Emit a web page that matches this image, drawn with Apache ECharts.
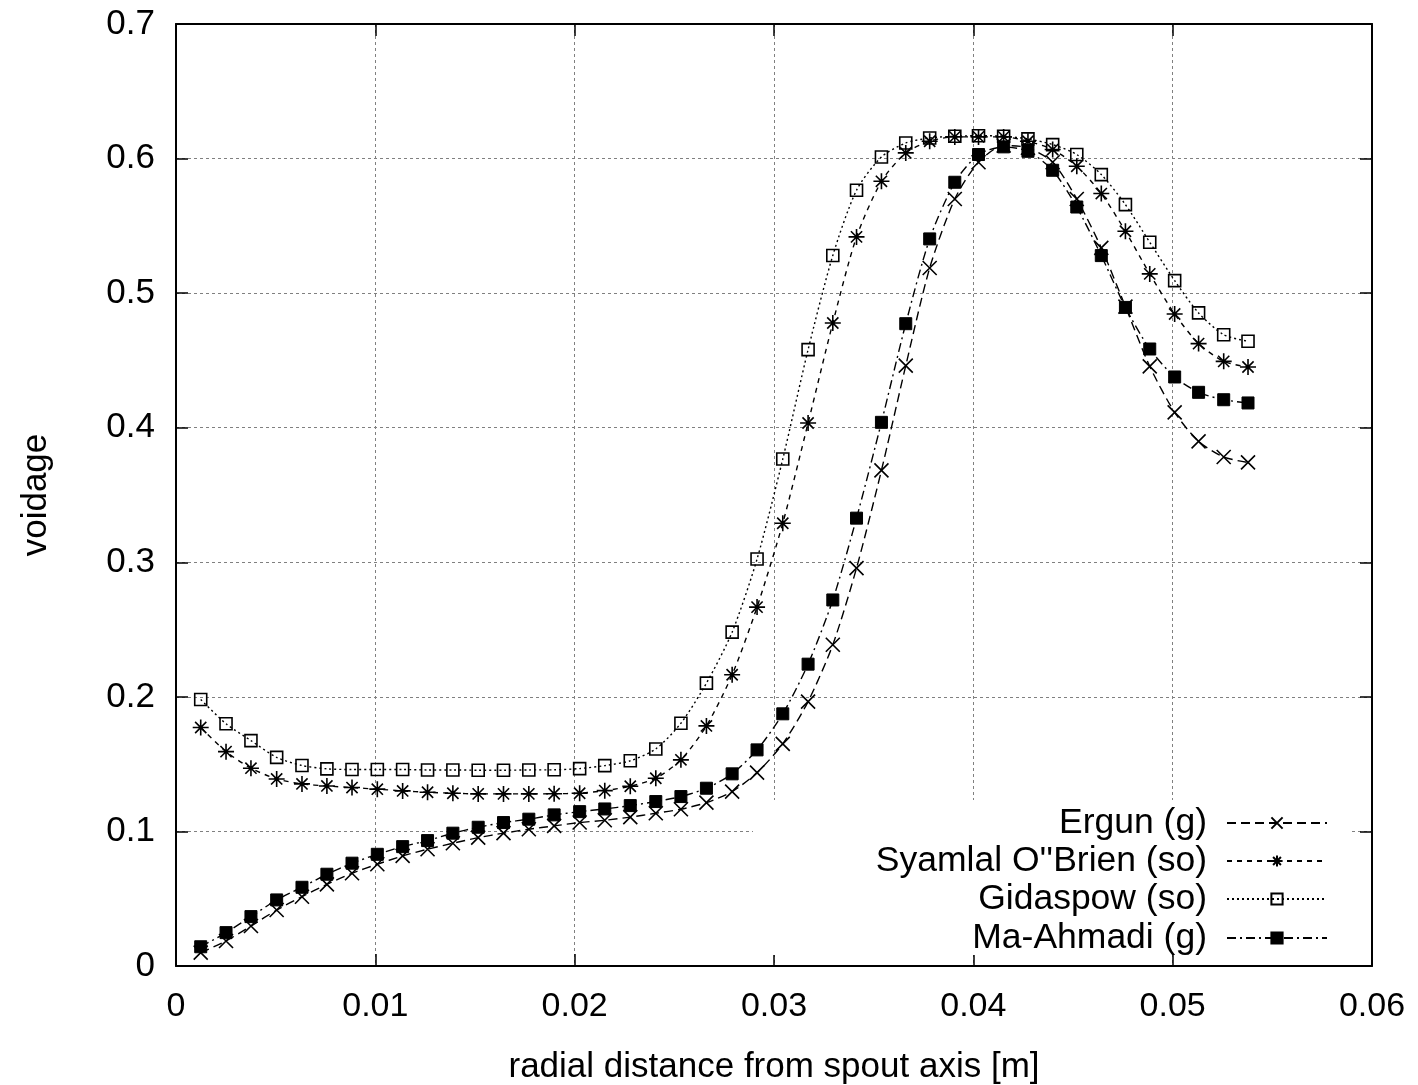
<!DOCTYPE html>
<html>
<head>
<meta charset="utf-8">
<script src="https://cdn.jsdelivr.net/npm/echarts@6/dist/echarts.min.js"></script>
<style>
html,body{margin:0;padding:0;background:#fff;}
#chart{width:1418px;height:1085px;}
</style>
</head>
<body>
<div id="chart"></div>
<script>
// radial positions [m]
const radius = [0.00124,0.00251,0.00376,0.00505,0.00632,0.00757,0.00883,0.01010,0.01137,0.01262,
0.01389,0.01516,0.01643,0.01770,0.01897,0.02025,0.02151,0.02279,0.02407,0.02533,
0.02661,0.02790,0.02915,0.03044,0.03171,0.03295,0.03414,0.03539,0.03661,0.03781,
0.03907,0.04026,0.04152,0.04274,0.04398,0.04519,0.04642,0.04763,0.04885,0.05010,
0.05130,0.05256,0.05378];

const ergun = [0.0099,0.0186,0.0297,0.0416,0.0515,0.0607,0.0689,0.0756,0.0818,0.0868,
0.0912,0.0954,0.0987,0.1016,0.1041,0.1066,0.1083,0.1106,0.1135,0.1165,
0.1214,0.1296,0.1437,0.1651,0.1965,0.2387,0.2957,0.3683,0.4461,0.5187,
0.5700,0.5973,0.6097,0.6080,0.5973,0.5700,0.5336,0.4900,0.4456,0.4114,
0.3898,0.3782,0.3742];

const syamlal = [0.1772,0.1593,0.1470,0.1390,0.1353,0.1338,0.1326,0.1314,0.1301,0.1291,
0.1284,0.1279,0.1279,0.1279,0.1280,0.1284,0.1303,0.1336,0.1395,0.1532,
0.1784,0.2164,0.2667,0.3290,0.4035,0.4778,0.5418,0.5831,0.6042,0.6129,
0.6161,0.6161,0.6161,0.6129,0.6067,0.5943,0.5740,0.5460,0.5143,0.4845,
0.4625,0.4493,0.4451];

const gidaspow = [0.1980,0.1800,0.1675,0.1550,0.1490,0.1465,0.1460,0.1460,0.1460,0.1457,
0.1457,0.1455,0.1455,0.1457,0.1458,0.1467,0.1489,0.1525,0.1613,0.1804,
0.2102,0.2481,0.3024,0.3767,0.4580,0.5280,0.5765,0.6012,0.6116,0.6153,
0.6166,0.6170,0.6166,0.6146,0.6104,0.6030,0.5881,0.5658,0.5378,0.5093,
0.4853,0.4691,0.4642];

const maAhmadi = [0.0143,0.0248,0.0367,0.0491,0.0585,0.0682,0.0764,0.0830,0.0887,0.0932,
0.0987,0.1031,0.1066,0.1091,0.1123,0.1147,0.1167,0.1192,0.1222,0.1259,
0.1321,0.1428,0.1606,0.1874,0.2243,0.2720,0.3328,0.4040,0.4773,0.5403,
0.5824,0.6030,0.6087,0.6054,0.5913,0.5640,0.5279,0.4894,0.4585,0.4377,
0.4263,0.4208,0.4184];

const seriesNames = ['Ergun (g)', "Syamlal O''Brien (so)", 'Gidaspow (so)', 'Ma-Ahmadi (g)'];
const xTitle = 'radial distance from spout axis [m]';
const yTitle = 'voidage';

const FONT = '"Liberation Sans", Arial, Helvetica, sans-serif';
const pair = arr => radius.map((r, i) => [r, arr[i]]);

const CROSS = 'path://M0,0 L10,10 M10,0 L0,10';
const STAR = 'path://M5,0 L5,10 M0,5 L10,5 M1.5,1.5 L8.5,8.5 M8.5,1.5 L1.5,8.5';

function lineSeries(name, arr, symbol, size, dash, filled) {
  return {
    name: name,
    type: 'line',
    data: pair(arr),
    smooth: 0.25,
    symbol: symbol,
    symbolSize: size,
    showSymbol: true,
    lineStyle: { color: '#000', width: 1.4, type: dash },
    itemStyle: filled
      ? { color: '#000', borderColor: '#000', borderWidth: 1 }
      : { color: 'rgba(0,0,0,0)', borderColor: '#000', borderWidth: 1.6 },
    emphasis: { disabled: true },
    z: 3
  };
}

const legendRight = 90;
const legendRows = [805, 843, 881, 920];
const legends = seriesNames.map((n, i) => ({
  data: [n],
  right: legendRight,
  top: legendRows[i],
  orient: 'vertical',
  align: 'right',
  itemWidth: 100,
  itemHeight: 14,
  padding: 0,
  selectedMode: false,
  textStyle: { fontSize: 35.5, fontFamily: FONT, color: '#000', padding: [0, 15, 0, 0] }
}));

const axisLineStyle = { color: '#000', width: 2 };
const tickStyle = { show: true, inside: true, length: 12, lineStyle: { color: '#000', width: 1.5 } };
const gridLine = { show: true, lineStyle: { color: '#808080', width: 1, type: [3, 3] } };

const option = {
  backgroundColor: '#fff',
  animation: false,
  grid: { left: 176, top: 24, width: 1196, height: 942, containLabel: false, outerBoundsMode: 'none' },
  legend: legends,
  graphic: [{
    type: 'rect',
    shape: { x: 753, y: 800, width: 598, height: 155 },
    style: { fill: '#fff' },
    z: 1
  }],
  xAxis: [{
    type: 'value', min: 0, max: 0.06, interval: 0.01,
    name: xTitle, nameLocation: 'middle', nameGap: 84,
    nameTextStyle: { fontSize: 35, fontFamily: FONT, color: '#000' },
    axisLine: { show: true, onZero: false, lineStyle: axisLineStyle },
    axisTick: tickStyle,
    axisLabel: { fontSize: 34, fontFamily: FONT, color: '#000', margin: 24 },
    splitLine: gridLine
  }, {
    type: 'value', min: 0, max: 0.06, interval: 0.01, position: 'top',
    axisLine: { show: true, onZero: false, lineStyle: axisLineStyle },
    axisTick: tickStyle,
    axisLabel: { show: false },
    splitLine: { show: false }
  }],
  yAxis: [{
    type: 'value', min: 0, max: 0.7, interval: 0.1,
    name: yTitle, nameLocation: 'middle', nameGap: 122, nameRotate: 90,
    nameTextStyle: { fontSize: 35, fontFamily: FONT, color: '#000' },
    axisLine: { show: true, onZero: false, lineStyle: axisLineStyle },
    axisTick: tickStyle,
    axisLabel: { fontSize: 35, fontFamily: FONT, color: '#000', margin: 21 },
    splitLine: gridLine
  }, {
    type: 'value', min: 0, max: 0.7, interval: 0.1, position: 'right',
    axisLine: { show: true, onZero: false, lineStyle: axisLineStyle },
    axisTick: tickStyle,
    axisLabel: { show: false },
    splitLine: { show: false }
  }],
  series: [
    lineSeries(seriesNames[0], ergun, CROSS, 14, [9, 5], false),
    lineSeries(seriesNames[1], syamlal, STAR, 16, [5, 5], false),
    lineSeries(seriesNames[2], gidaspow, 'rect', 12, [2, 3], false),
    lineSeries(seriesNames[3], maAhmadi, 'rect', 12, [9, 4, 2, 4], true)
  ]
};

const chart = echarts.init(document.getElementById('chart'), null, { renderer: 'canvas' });
chart.setOption(option);
</script>
</body>
</html>
